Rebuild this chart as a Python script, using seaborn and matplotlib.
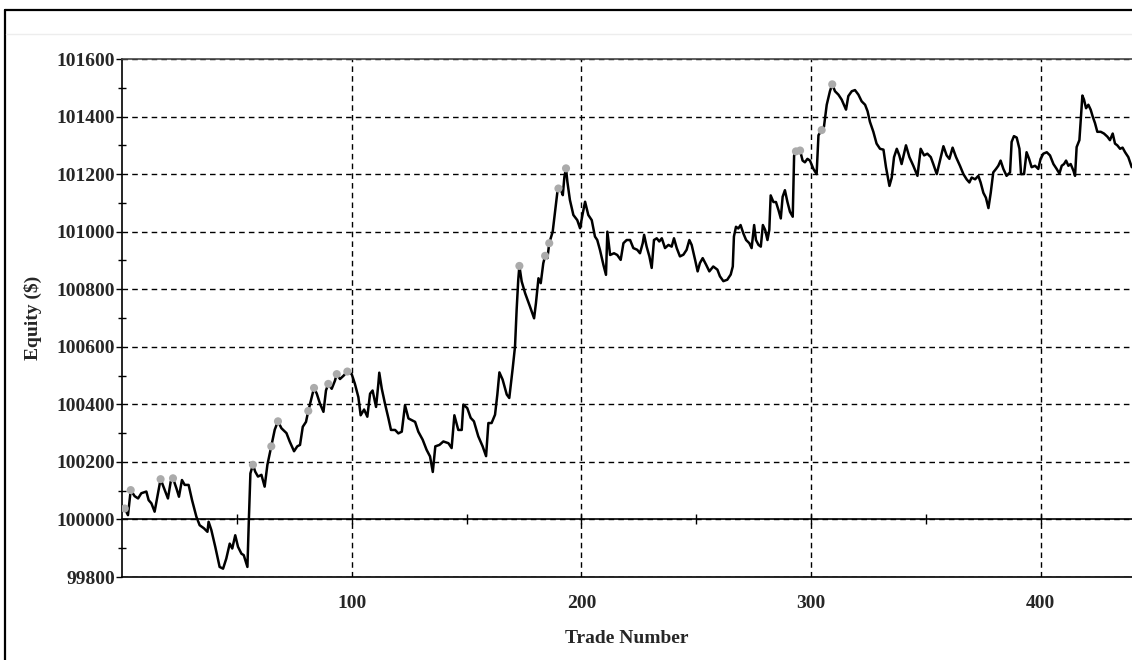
## Equity curve by trade number, gray dots mark each new equity high ##
import numpy as np
import pandas as pd
import matplotlib.pyplot as plt
from matplotlib.lines import Line2D
from matplotlib.ticker import MultipleLocator
import seaborn as sns

#equity, one entry per vertex of the line
trades = [
    1.2, 2.6, 3.8, 5.5, 7.0, 8.4, 10.6, 11.6, 12.8, 14.2, 15.4, 16.8, 18.6, 20.0, 21.2, 22.2, 23.7, 24.8,
    26.1, 27.3, 29.0, 30.5, 32.4, 33.8, 35.7, 37.2, 37.7, 38.9, 40.6, 42.5, 44.0, 45.4, 46.9, 48.0, 49.3,
    50.5, 52.0, 53.0, 54.6, 55.2, 55.9, 57.0, 58.0, 59.2, 60.7, 62.1, 63.3, 65.0, 66.5, 67.9, 69.4, 71.6, 73.0,
    74.9, 76.3, 77.5, 78.7, 80.1, 81.1, 82.6, 83.6, 84.8, 86.2, 87.7, 88.8, 89.8, 91.3, 92.7, 93.5, 94.9,
    96.4, 98.1, 100.0, 101.4, 102.9, 103.9, 105.4, 106.8, 108.0, 109.1, 110.6, 111.6, 112.0, 113.1, 114.5,
    116.0, 117.1, 118.9, 120.3, 121.8, 123.2, 124.7, 126.1, 127.6, 129.0, 130.9, 132.6, 134.1, 135.3, 136.4,
    138.2, 139.9, 142.1, 143.5, 144.7, 146.4, 147.9,
    148.6, 150.3, 151.8, 153.2, 155.1, 157.0, 158.5, 159.5, 160.9, 162.4, 163.4, 164.3, 165.7, 167.5, 168.6,
    170.1, 171.1, 171.8, 172.5, 173.0, 174.0, 175.5, 177.6, 179.4, 180.2, 181.3, 182.3, 183.4, 184.2, 185.2,
    186.0, 187.5, 188.5, 189.5, 190.0, 191.1, 191.9, 192.6, 193.3, 193.9, 195.0, 196.5, 198.2, 199.4, 200.6,
    201.6, 203.0, 204.5, 205.9, 206.9, 208.1, 209.6, 210.7, 211.3, 212.5, 214.2, 215.6, 217.1, 218.3, 219.7,
    221.2, 222.6, 224.3, 225.5, 226.7, 227.3, 228.4, 229.6, 230.6, 231.6, 232.8, 233.9, 235.0, 236.4, 237.9,
    239.3, 240.3, 241.5, 242.9, 244.4, 245.8, 247.0, 248.0, 249.5, 250.6, 251.6, 252.8, 254.3, 255.7, 257.4,
    259.2, 260.3, 261.8, 263.5, 265.0, 265.9, 266.4, 267.3, 268.3, 269.3, 270.5, 271.7, 273.1, 274.1, 275.2,
    276.0, 277.1, 278.1, 279.0, 280.0, 281.0, 281.8, 282.4, 283.6, 284.7, 285.8, 286.8, 287.6, 288.6, 289.7,
    290.8, 292.0, 292.6, 293.4,
    295.2, 296.3, 297.3, 298.4, 299.5, 301.0, 302.4, 303.2, 304.6, 305.6, 306.8, 308.2, 309.2, 310.4, 311.9,
    313.3, 315.2, 316.2, 317.7, 319.1, 320.6, 322.0, 323.5, 324.6, 325.6, 327.1, 328.5, 330.0, 331.5, 332.6,
    334.1, 335.1, 336.1, 337.3, 338.4, 339.4, 341.3, 342.8, 344.5, 346.3, 347.7, 349.2, 350.6, 352.1, 353.2,
    354.7, 356.1, 357.6, 359.0, 360.2, 361.6, 363.1, 364.8,
    366.3, 367.7, 368.9, 369.9, 371.4, 372.8, 373.8, 375.0, 376.1, 377.2, 378.2, 379.3, 380.5, 381.5, 382.5,
    383.7, 385.1, 386.6, 387.3, 388.3, 389.5, 390.7, 391.4, 392.7, 393.8, 394.9, 396.0, 397.5, 398.9, 399.9,
    401.1, 402.6, 404.0, 405.5, 406.9, 408.1, 409.1, 410.1, 411.0, 412.0, 413.0, 414.2, 414.9, 415.6, 416.8,
    417.4, 418.1, 418.8, 419.7, 420.7, 421.7, 422.6, 423.6, 424.6, 426.1, 427.5, 429.0, 430.1, 431.3, 432.3,
    433.3, 434.5, 435.6, 436.7, 438.1, 439.6,
]
equity = [
    100038, 100015, 100102, 100081, 100073, 100091, 100097, 100067, 100056, 100027, 100079, 100140, 100102,
    100073, 100131, 100143, 100108, 100079, 100137, 100120, 100120, 100067, 100009, 99980, 99969, 99957,
    99992, 99963, 99905, 99835, 99829, 99864, 99916, 99899, 99945, 99905, 99881, 99876, 99835, 99992,
    100160, 100190, 100166, 100149, 100155, 100114, 100190, 100254, 100312, 100341, 100317, 100300, 100271,
    100237, 100254, 100259, 100322, 100339, 100377, 100425, 100457, 100437, 100402, 100374, 100448, 100471,
    100454, 100482, 100505, 100488, 100499, 100514, 100505, 100471, 100425, 100362, 100382, 100357, 100437,
    100448, 100391, 100471, 100510, 100454, 100402, 100351, 100311, 100311, 100299, 100305, 100397, 100351,
    100345, 100339, 100305, 100277, 100242, 100219, 100165, 100254, 100259, 100271, 100265, 100248, 100362,
    100311, 100311,
    100399, 100387, 100353, 100341, 100289, 100254, 100220, 100335, 100335, 100364, 100434, 100511, 100486,
    100434, 100422, 100526, 100601, 100728, 100832, 100881, 100827, 100786, 100740, 100699, 100751, 100838,
    100821, 100890, 100916, 100908, 100960, 101000, 101069, 101135, 101150, 101145, 101127, 101191, 101220,
    101173, 101110, 101058, 101040, 101012, 101064, 101104, 101058, 101040, 100983, 100971, 100936, 100884,
    100850, 101000, 100919, 100925, 100919, 100902, 100960, 100971,
    100971, 100943, 100937, 100925, 100960, 100989, 100948, 100914, 100874, 100971, 100977, 100966, 100977,
    100943, 100954, 100948, 100977, 100943, 100914, 100920, 100937, 100971, 100954, 100902, 100862, 100891,
    100908, 100885, 100862, 100879, 100868, 100845, 100828, 100833, 100851, 100879, 100983, 101017, 101011,
    101023, 100994, 100971, 100960, 100943, 101023, 100971, 100954, 100948, 101023, 101006, 100971, 101006,
    101126, 101103, 101103, 101075, 101046, 101121, 101144, 101103, 101069, 101052, 101264, 101279,
    101282, 101247, 101241, 101253, 101247, 101218, 101200, 101335, 101353, 101365, 101441, 101488, 101512,
    101488, 101476, 101459, 101424, 101471, 101488, 101492, 101476, 101453, 101441, 101418, 101382, 101347,
    101306, 101288, 101285, 101224, 101159, 101188, 101259, 101288, 101265, 101235, 101300, 101259, 101229,
    101194, 101288, 101265, 101271, 101259, 101235, 101200, 101247, 101297, 101265, 101253, 101292, 101259,
    101229,
    101200, 101182, 101171, 101188, 101182, 101194, 101171, 101135, 101118, 101082, 101135, 101206, 101218,
    101229, 101247, 101218, 101194, 101206, 101312, 101332, 101327, 101288, 101200, 101200, 101276, 101253,
    101224, 101229, 101218, 101253, 101271, 101276, 101265, 101235, 101218, 101202, 101229, 101235, 101247,
    101229, 101235, 101212, 101194, 101294, 101318, 101388, 101473, 101459, 101429, 101441, 101424, 101400,
    101377, 101347, 101347, 101341, 101330, 101318, 101341, 101306, 101300, 101288, 101292, 101276, 101259,
    101224,
]

#new equity highs (gray dots)
high_trades = [1.2, 3.8, 16.8, 22.2, 57.0, 65.0, 67.9, 81.1, 83.6, 89.8, 93.5, 98.1,
               173.0, 184.2, 186.0, 190.0, 193.3, 293.4, 295.2, 304.6, 309.2]
high_equity = [100038, 100102, 100140, 100143, 100190, 100254, 100341, 100377, 100457, 100471, 100505, 100514,
               100881, 100916, 100960, 101150, 101220, 101279, 101282, 101353, 101512]

x_ticks = [100, 200, 300, 400]
y_ticks = list(range(99800, 101601, 200))
start_equity = 100000

assert len(trades) == len(equity)
curve_df = pd.DataFrame({"trade": trades, "equity": equity})
highs_df = pd.DataFrame({"trade": high_trades, "equity": high_equity})

sns.set_theme(style="white")
plt.rcParams["font.family"] = ["Liberation Serif", "DejaVu Serif"]
plt.rcParams["font.weight"] = "bold"
fs = 14

fig = plt.figure(figsize=(11.32, 6.6), dpi=100)
W, H = 1132, 660
ax = fig.add_axes([122 / W, (H - 577) / H, (W - 122) / W, (577 - 59) / H])

sns.lineplot(data=curve_df, x="trade", y="equity", sort=False, estimator=None,
             color="black", lw=1.8, ax=ax, zorder=3)
sns.scatterplot(data=highs_df, x="trade", y="equity", color="#ababab", s=34,
                edgecolor="none", ax=ax, zorder=4)

ax.set_xlim(0, 439.7)
ax.set_ylim(99800, 101600)
ax.set_xticks(x_ticks)
ax.set_yticks(y_ticks)
ax.yaxis.set_minor_locator(MultipleLocator(100))

#dashed grid like the original charting tool
ax.grid(True, which="major", ls=(0, (4, 3)), color="black", lw=1, zorder=1)

ax.tick_params(axis="x", which="major", length=0, pad=13, labelsize=fs)
ax.tick_params(axis="y", which="major", direction="out", length=4, width=1, color="black",
               pad=1, labelsize=fs, left=True)
ax.tick_params(axis="y", which="minor", direction="inout", length=6, width=1, color="black", left=True)

for side in ["left", "bottom"]:
    ax.spines[side].set_color("black")
    ax.spines[side].set_linewidth(1.2)
ax.spines["top"].set_color("#444444")
ax.spines["top"].set_linewidth(1.2)
ax.spines["right"].set_visible(False)

#solid axis line at the starting equity with its own small ticks
loc = (start_equity - 99800) / (101600 - 99800)
secax = ax.secondary_xaxis(loc)
secax.set_xticks(list(range(50, 451, 50)))
secax.tick_params(axis="x", direction="inout", length=7, width=1, color="black", labelbottom=False)
secax.spines["bottom"].set_color("black")
secax.spines["bottom"].set_linewidth(1.2)

ax.set_xlabel("Trade Number", fontsize=fs, fontweight="bold")
ax.set_ylabel(r"Equity (\$)", fontsize=fs, fontweight="bold")
ax.xaxis.set_label_coords(0.5, -0.102)
ax.yaxis.set_label_coords(-0.079, 0.5)

#window frame around the chart
fig.add_artist(Line2D([5 / W, 5 / W], [0, 1 - 10 / H], color="black", lw=1.6))
fig.add_artist(Line2D([5 / W, 1], [1 - 10 / H, 1 - 10 / H], color="black", lw=1.6))
fig.add_artist(Line2D([6 / W, 1], [1 - 34 / H, 1 - 34 / H], color="#ededed", lw=1))

fig.savefig("out.png", dpi=100)
